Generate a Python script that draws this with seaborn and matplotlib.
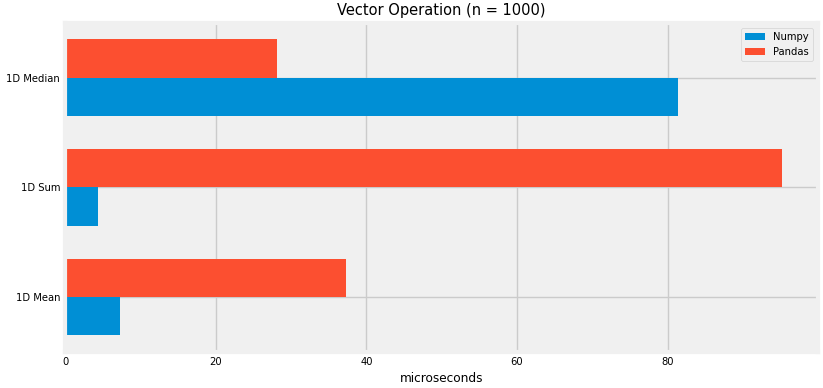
import matplotlib
matplotlib.use("Agg")
import matplotlib.pyplot as plt
import seaborn as sns
import pandas as pd

# data (microseconds)
operations = ["1D Median", "1D Sum", "1D Mean"]
numpy_times = [81.4, 4.4, 7.3]
pandas_times = [28.1, 95.2, 37.3]

df = pd.DataFrame({
    "operation": operations * 2,
    "library": ["Numpy"] * 3 + ["Pandas"] * 3,
    "time": numpy_times + pandas_times,
})

plt.style.use("fivethirtyeight")
colors = {"Numpy": "#008fd5", "Pandas": "#fc4f30"}

fig = plt.figure(figsize=(8.23, 3.88), dpi=100, facecolor="white")
ax = fig.add_axes([0.079, 0.093, 0.915, 0.848])

sns.barplot(data=df, y="operation", x="time", hue="library",
            hue_order=["Pandas", "Numpy"], palette=colors, orient="h",
            order=operations, width=0.7, saturation=1, linewidth=0, ax=ax)

ax.set_ylim(2.5, -0.5)
ax.set_xlim(0, df["time"].max() * 1.05)
ax.grid(True, axis="both", color="#cbcbcb")
ax.set_axisbelow(True)
ax.set_title("Vector Operation (n = 1000)", fontsize=10.5)
ax.set_xlabel("microseconds", fontsize=8.7)
ax.set_ylabel("")
ax.tick_params(labelsize=7.2)

# legend in Numpy, Pandas order
handles, labels = ax.get_legend_handles_labels()
order = [labels.index("Numpy"), labels.index("Pandas")]
ax.legend([handles[i] for i in order], [labels[i] for i in order],
          loc="upper right", fontsize=7.2, title=None)

fig.savefig("out.png", dpi=100, facecolor="white")
